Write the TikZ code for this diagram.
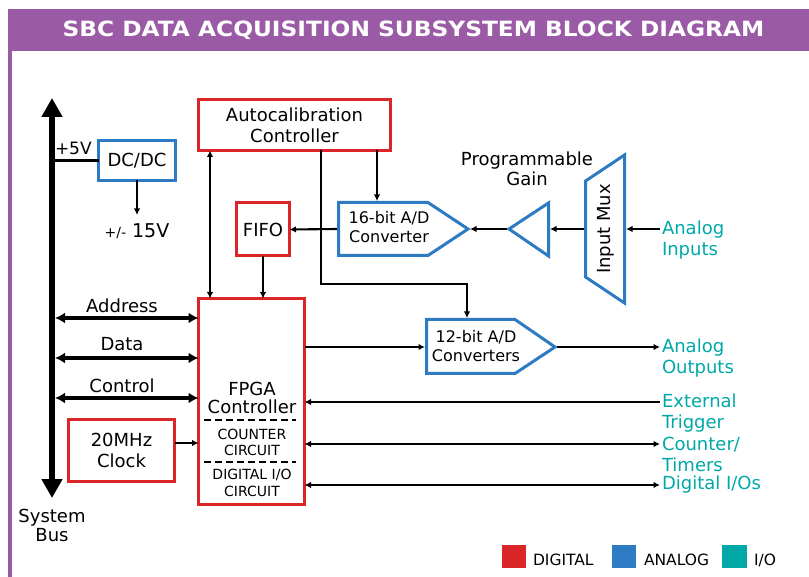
\documentclass[tikz,border=0pt]{standalone}
\usepackage{fontspec}
\setmainfont{DejaVu Sans}
\usetikzlibrary{arrows.meta,calc}
\definecolor{dred}{RGB}{218,37,41}
\definecolor{ablue}{RGB}{45,123,194}
\definecolor{ioteal}{RGB}{0,168,168}
\definecolor{framepurple}{RGB}{155,90,166}
\begin{document}
\begin{tikzpicture}[x=1pt,y=-1pt,
 every node/.style={inner sep=0pt, outer sep=0pt},
 lbl/.style={font=\fontsize{18}{21}\selectfont, align=center},
 dbox/.style={draw=dred, line width=3pt, lbl},
 abox/.style={draw=ablue, line width=3pt, line join=miter},
 bbox/.style={draw=ablue, line width=3pt, lbl},
 conn/.style={line width=2.1pt, -{Latex[length=6.5pt,width=6.5pt]}},
 biconn/.style={line width=2.1pt, {Latex[length=6.5pt,width=6.5pt]}-{Latex[length=6.5pt,width=6.5pt]}},
 plainline/.style={line width=2.1pt},
 busconn/.style={line width=3.5pt, {Latex[length=10pt,width=11pt]}-{Latex[length=10pt,width=11pt]}},
 iolbl/.style={font=\fontsize{18}{21}\selectfont, text=ioteal, align=left, anchor=north west},
 legtxt/.style={font=\fontsize{15.5}{18}\selectfont, anchor=base west},
]
\useasboundingbox (0,0) rectangle (809,577);
% frame
\fill[framepurple] (8,9) rectangle (809,51);
\fill[framepurple] (8,51) rectangle (12,577);
\node[font=\fontsize{21}{25}\bfseries\selectfont, text=white, anchor=base] (title) at (413.5,37)
  {\scalebox{1.11}[1]{SBC DATA ACQUISITION SUBSYSTEM BLOCK DIAGRAM}};

% system bus
\coordinate (bustop) at (52,98);
\coordinate (busbot) at (52,498);
\draw[line width=6pt, {Triangle[length=19pt,width=20pt]}-{Triangle[length=19pt,width=20pt]}] (bustop) -- (busbot);
\node[lbl, font=\fontsize{18}{19}\selectfont, anchor=north] (sysbus) at (52,509) {System\\Bus};

% boxes
\node[dbox, minimum width=192pt, minimum height=51pt] (autocal) at (294.5,125) {Autocalibration\\Controller};
\node[dbox, minimum width=53pt, minimum height=53pt] (fifo) at (263,229.5) {FIFO};
\node[draw=dred, line width=3pt, minimum width=106pt, minimum height=206pt] (fpga) at (251.5,401.5) {};
\node[dbox, minimum width=106pt, minimum height=62pt] (clock) at (121.5,450.5) {20MHz\\Clock};
\node[bbox, minimum width=77pt, minimum height=40pt] (dcdc) at (137,160.5) {DC/DC};

% FPGA contents
\node[lbl, font=\fontsize{18}{18}\selectfont, anchor=north] (fpgatxt) at (252,381.9) {FPGA\\Controller};
\draw[line width=2pt, dash pattern=on 7pt off 4pt] (204,420) -- (296,420);
\node[font=\fontsize{14}{16}\selectfont, align=center, anchor=north] (cnttxt) at (252,428.8) {COUNTER\\CIRCUIT};
\draw[line width=2pt, dash pattern=on 7pt off 4pt] (204,462) -- (296,462);
\node[font=\fontsize{14}{17}\selectfont, align=center, anchor=north] (diotxt) at (252,469.4) {DIGITAL I/O\\CIRCUIT};

% analog shapes
\draw[abox] (338.5,202.5) -- (428,202.5) -- (468,229) -- (428,255.5) -- (338.5,255.5) -- cycle;
\node[font=\fontsize{16}{19}\selectfont, align=center] (adc16) at (389,227.5) {16-bit A/D\\Converter};
\draw[abox] (426.5,319.5) -- (515,319.5) -- (555,347) -- (515,373.5) -- (426.5,373.5) -- cycle;
\node[font=\fontsize{16}{19}\selectfont, align=center] (adc12) at (476,346.5) {12-bit A/D\\Converters};
\draw[abox] (509,229) -- (548.5,203) -- (548.5,256) -- cycle;
\node[lbl, font=\fontsize{18}{20}\selectfont, anchor=north] (gaintxt) at (527,152.3) {Programmable\\Gain};
\draw[abox] (585.5,181) -- (624.5,155) -- (624.5,303) -- (585.5,277) -- cycle;
\node[lbl, rotate=90] (muxtxt) at (606,229) {Input Mux};

% connector points
\coordinate (adc16w) at (337,229);
\coordinate (adc16n) at (377,201);
\coordinate (adc16e) at (470,229);
\coordinate (gainw) at (507,229);
\coordinate (gaine) at (550,229);
\coordinate (muxw) at (584,229);
\coordinate (muxe) at (626,229);
\coordinate (adc12w) at (425,347);
\coordinate (adc12n) at (467,318);
\coordinate (adc12e) at (557,347);
\coordinate (bend) at (321,284);
\coordinate (ain) at (660,229);
\coordinate (aout) at (660,347);
\coordinate (trig) at (660,402);
\coordinate (cnt) at (660,444);
\coordinate (dio) at (660,485);
\coordinate (xa) at (210,0);
\coordinate (bus5) at (52,160.5);
\coordinate (v15top) at (137,215);
\coordinate (addr) at (55,318);
\coordinate (data) at (55,358);
\coordinate (ctrl) at (55,398);
\coordinate (clk) at (176,443);

% power
\draw[plainline] (bus5) -- (dcdc.west);
\node[font=\fontsize{17}{20}\selectfont, anchor=base west] (p5v) at (55,155) {+5V};
\draw[conn] (dcdc.south) -- (v15top);
\node[anchor=base] (v15) at (137,238) {\fontsize{14}{16}\selectfont +/-\hspace{6pt}\fontsize{19}{22}\selectfont 15V};

% connectors
\draw[biconn] (autocal.south -| xa) -- (fpga.north -| xa);
\draw[conn] (fifo.south) -- (fifo.south |- fpga.north);
\draw[conn] (adc16w) -- (fifo.east);
\draw[conn] (autocal.south -| adc16n) -- (adc16n);
\draw[conn] (autocal.south -| bend) -- (bend) -| (adc12n);
\draw[conn] (gainw) -- (adc16e);
\draw[conn] (muxw) -- (gaine);
\draw[conn] (ain) -- (muxe);
\draw[conn] (fpga.east |- adc12w) -- (adc12w);
\draw[conn] (adc12e) -- (aout);
\draw[conn] (trig) -- (fpga.east |- trig);
\draw[biconn] (fpga.east |- cnt) -- (cnt);
\draw[biconn] (fpga.east |- dio) -- (dio);
\draw[conn] (clock.east |- clk) -- (fpga.west |- clk);

% bus signals
\draw[busconn] (addr) -- (fpga.west |- addr);
\draw[busconn] (data) -- (fpga.west |- data);
\draw[busconn] (ctrl) -- (fpga.west |- ctrl);
\node[lbl, anchor=base] (addrtxt) at (122,313) {Address};
\node[lbl, anchor=base] (datatxt) at (122,351) {Data};
\node[lbl, anchor=base] (ctrltxt) at (122,392) {Control};

% IO labels
\node[iolbl] (aintxt) at (662,221.3) {Analog\\Inputs};
\node[iolbl] (aouttxt) at (662,339.3) {Analog\\Outputs};
\node[iolbl] (trigtxt) at (662,394.3) {External\\Trigger};
\node[iolbl] (cnttxt2) at (662,437.3) {Counter/\\Timers};
\node[iolbl] (diotxt2) at (662,476.3) {Digital I/Os};

% legend
\fill[dred] (502,545) rectangle (526,568);
\node[legtxt] (legd) at (533,565) {DIGITAL};
\fill[ablue] (612,545) rectangle (636,568);
\node[legtxt] (lega) at (644,565) {ANALOG};
\fill[ioteal] (722,545) rectangle (747,568);
\node[legtxt] (legi) at (754,565) {I/O};
\end{tikzpicture}
\end{document}
